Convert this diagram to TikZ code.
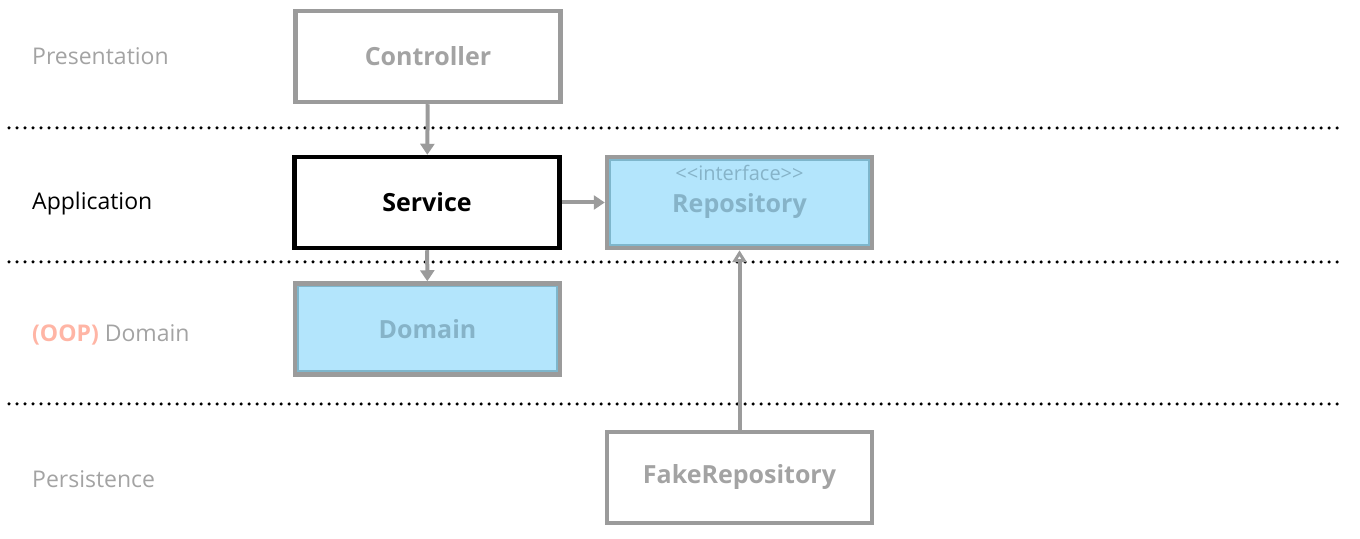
\documentclass[tikz,border=0pt]{standalone}
\usepackage{fontspec}
\newfontfamily\uifont{Open Sans}
\usetikzlibrary{arrows.meta}
\definecolor{boxgray}{HTML}{9B9B9B}
\definecolor{labelgray}{HTML}{A3A3A3}
\definecolor{boxblue}{HTML}{B3E5FC}
\definecolor{rimblue}{HTML}{7EB6CC}
\definecolor{textblue}{HTML}{86B3C8}
\definecolor{oopsalmon}{HTML}{FFB5A5}
\begin{document}
\begin{tikzpicture}[>={Triangle[width=14bp,length=11bp]},line join=miter,
    layerbox/.style={draw=boxgray,line width=4.5bp,rectangle,minimum width=265bp,minimum height=91bp,inner sep=0pt,font=\uifont\fontsize{25bp}{29bp}\bfseries,text=labelgray},
    corebox/.style={layerbox,draw=black,text=black},
    bluebox/.style={layerbox,fill=boxblue,text=textblue,path picture={\draw[rimblue,line width=8bp] (path picture bounding box.south west) rectangle (path picture bounding box.north east);}},
    layername/.style={anchor=west,inner sep=0pt,font=\uifont\fontsize{23bp}{27bp}\selectfont,text=labelgray},
    layerline/.style={line width=3.5bp,line cap=round,dash pattern=on 0pt off 8bp},
    link/.style={draw=boxgray,line width=4bp},
    ]
    \useasboundingbox (0bp,0bp) rectangle (1360bp,539bp);
    %%
    \draw [layerline] (9bp,411bp) -- (1343bp,411bp);
    \draw [layerline] (9bp,277bp) -- (1343bp,277bp);
    \draw [layerline] (9bp,135bp) -- (1343bp,135bp);
    %%
    \node (presentation) at (32bp,483bp) [layername] {Presentation};
    \node (application) at (32bp,335bp) [layername,text=black] {Application};
    \node (domainlayer) at (32bp,204bp) [layername] {{\color{oopsalmon}\bfseries (OOP)} Domain};
    \node (persistence) at (32bp,60bp) [layername] {Persistence};
    %%
    \node (controller) at (428.0bp,482.5bp) [layerbox] {Controller};
    \node (service) at (427.0bp,336.5bp) [corebox] {Service};
    \node (repository) at (739.5bp,336.5bp) [bluebox,text height=26bp,text depth=6bp,
        label={[anchor=north,inner sep=0pt,yshift=-10bp,text=textblue,font=\uifont\fontsize{20bp}{24bp}\selectfont]north:<<interface>>}] {Repository};
    \node (domain) at (427.5bp,210.0bp) [bluebox] {Domain};
    \node (fakerepository) at (739.5bp,61.5bp) [layerbox] {FakeRepository};
    %%
    \draw [link,->] (controller) -- (service);
    \draw [link,->] (service) -- (repository);
    \draw [link,->] (service) -- (domain);
    \draw [link,-{Triangle[open,width=14bp,length=12bp]}] (fakerepository) -- (repository);
    %
\end{tikzpicture}
\end{document}
